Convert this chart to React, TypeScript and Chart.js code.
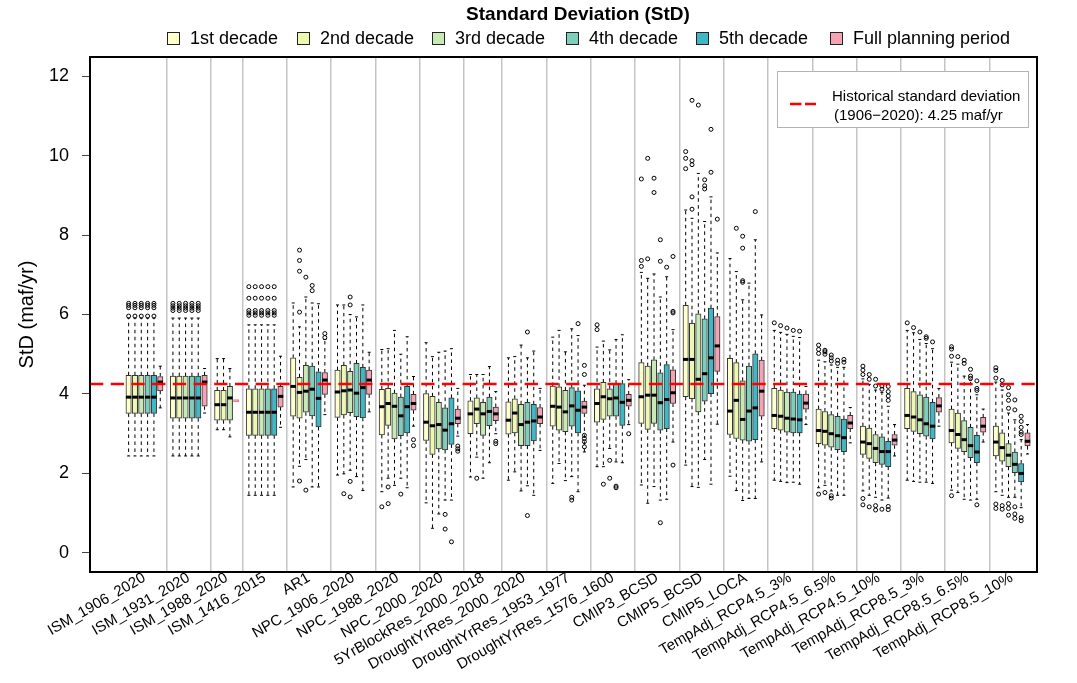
import React, { useEffect, useRef } from 'react';
import { Chart, registerables } from 'chart.js';

Chart.register(...registerables);

const FONT = "'Liberation Sans', Arial, Helvetica, sans-serif";

// ---------------- data ----------------
const groups: string[] = [
  'ISM_1906_2020', 'ISM_1931_2020', 'ISM_1988_2020', 'ISM_1416_2015', 'AR1',
  'NPC_1906_2020', 'NPC_1988_2020', 'NPC_2000_2020', '5YrBlockRes_2000_2018',
  'DroughtYrRes_2000_2020', 'DroughtYrRes_1953_1977', 'DroughtYrRes_1576_1600',
  'CMIP3_BCSD', 'CMIP5_BCSD', 'CMIP5_LOCA', 'TempAdj_RCP4.5_3%', 'TempAdj_RCP4.5_6.5%',
  'TempAdj_RCP4.5_10%', 'TempAdj_RCP8.5_3%', 'TempAdj_RCP8.5_6.5%', 'TempAdj_RCP8.5_10%',
];

const seriesNames: string[] = ['1st decade', '2nd decade', '3rd decade', '4th decade', '5th decade', 'Full planning period'];

const yTicks: number[] = [0, 2, 4, 6, 8, 10, 12];
const historicalStd = 4.25;
const chartTitle = 'Standard Deviation (StD)';
const histLabel1 = 'Historical standard deviation';
const histLabel2 = '(1906\u22122020): 4.25 maf/yr';

type Box = [number, number, number, number, number] | null; // [low whisker, q1, median, q3, high whisker]

const dec1Stats: Box[] = [
  [2.44, 3.51, 3.92, 4.47, 5.91], [2.44, 3.39, 3.90, 4.45, 5.91], [3.10, 3.34, 3.73, 4.09, 4.89],
  [1.45, 2.96, 3.54, 4.13, 5.74], [1.66, 3.44, 4.19, 4.91, 6.29], [1.96, 3.41, 4.05, 4.60, 6.24],
  [1.54, 2.97, 3.68, 4.12, 5.12], [1.26, 2.83, 3.29, 4.01, 5.29], [1.91, 3.00, 3.50, 3.83, 4.49],
  [1.83, 2.99, 3.34, 3.80, 4.91], [1.75, 3.19, 3.69, 4.20, 5.43], [2.17, 3.29, 3.76, 4.13, 5.18],
  [1.71, 3.26, 3.93, 4.79, 7.06], [2.21, 3.93, 4.87, 6.23, 8.63], [1.93, 2.98, 3.57, 4.90, 7.41],
  [1.83, 3.13, 3.46, 4.14, 5.60], [1.64, 2.75, 3.08, 3.62, 4.85], [1.56, 2.48, 2.79, 3.19, 4.38],
  [1.83, 3.13, 3.46, 4.14, 5.60], [1.58, 2.77, 3.08, 3.62, 4.80], [1.54, 2.44, 2.79, 3.19, 4.30],
];
const dec2Stats: Box[] = [
  [2.44, 3.51, 3.92, 4.47, 5.91], [2.44, 3.39, 3.90, 4.45, 5.91], [3.10, 3.34, 3.73, 4.09, 4.89],
  [1.45, 2.96, 3.54, 4.13, 5.74], [2.18, 3.39, 4.04, 4.42, 5.69], [1.99, 3.47, 4.08, 4.72, 6.24],
  [1.88, 3.21, 3.76, 4.14, 5.14], [0.62, 2.48, 3.20, 3.94, 4.94], [2.41, 3.25, 3.62, 3.90, 4.49],
  [2.04, 3.02, 3.52, 3.88, 4.94], [2.25, 3.09, 3.67, 4.18, 5.60], [2.17, 3.36, 3.93, 4.29, 5.33],
  [1.25, 3.11, 3.97, 4.70, 6.91], [1.67, 3.88, 4.87, 5.78, 8.42], [1.57, 2.88, 3.84, 4.79, 7.08],
  [1.80, 3.09, 3.44, 4.10, 5.55], [1.70, 2.71, 3.06, 3.56, 4.81], [1.45, 2.38, 2.75, 3.14, 4.24],
  [1.80, 3.06, 3.42, 4.06, 5.54], [1.52, 2.63, 2.98, 3.52, 4.75], [1.45, 2.31, 2.65, 3.02, 4.10],
];
const dec3Stats: Box[] = [
  [2.44, 3.51, 3.92, 4.47, 5.91], [2.44, 3.39, 3.90, 4.45, 5.91], [2.92, 3.34, 3.90, 4.19, 4.64],
  [1.45, 2.96, 3.54, 4.13, 5.74], [2.35, 3.54, 4.07, 4.72, 6.44], [2.08, 3.53, 4.10, 4.57, 6.00],
  [1.70, 2.87, 3.69, 4.02, 5.60], [0.98, 2.62, 3.23, 3.79, 5.05], [1.88, 2.96, 3.50, 3.79, 4.49],
  [1.56, 2.70, 3.23, 3.74, 5.23], [1.82, 3.05, 3.55, 4.09, 5.06], [2.63, 3.44, 3.88, 4.13, 5.11],
  [1.67, 3.26, 3.97, 4.86, 7.02], [1.65, 3.55, 4.37, 6.02, 9.55], [1.32, 2.84, 3.36, 4.33, 6.37],
  [1.77, 3.04, 3.39, 4.05, 5.50], [1.56, 2.66, 3.00, 3.48, 4.73], [1.40, 2.27, 2.63, 2.98, 4.10],
  [1.78, 3.00, 3.35, 3.98, 5.37], [1.35, 2.55, 2.85, 3.33, 4.45], [1.40, 2.17, 2.46, 2.75, 3.52],
];
const dec4Stats: Box[] = [
  [2.44, 3.51, 3.92, 4.47, 5.91], [2.44, 3.39, 3.90, 4.45, 5.91], null,
  [1.45, 2.96, 3.54, 4.13, 5.74], [1.66, 3.45, 4.12, 4.70, 6.29], [1.92, 3.43, 4.02, 4.77, 5.94],
  [1.88, 2.95, 3.45, 3.92, 5.00], [1.33, 2.59, 3.09, 3.65, 5.08], [2.27, 3.20, 3.56, 3.92, 4.69],
  [1.69, 2.70, 3.29, 3.79, 4.91], [1.92, 3.19, 3.70, 4.16, 5.64], [2.29, 3.44, 3.90, 4.26, 5.37],
  [1.33, 3.09, 3.78, 4.53, 6.44], [2.35, 3.82, 4.51, 5.89, 8.34], [1.37, 2.81, 3.57, 4.70, 6.79],
  [1.78, 3.02, 3.37, 4.05, 5.45], [1.45, 2.60, 2.95, 3.44, 4.67], [1.33, 2.23, 2.55, 2.92, 4.04],
  [1.78, 2.94, 3.25, 3.92, 5.27], [1.33, 2.40, 2.70, 3.16, 4.35], [1.40, 2.02, 2.23, 2.54, 3.35],
];
const dec5Stats: Box[] = [
  [2.44, 3.51, 3.92, 4.47, 5.91], [2.44, 3.39, 3.90, 4.45, 5.91], null,
  [1.45, 2.96, 3.54, 4.13, 5.74], [1.66, 3.17, 3.89, 4.56, 6.27], [1.57, 3.40, 4.16, 4.67, 6.24],
  [1.64, 3.02, 3.68, 4.19, 5.44], [1.33, 2.73, 3.25, 3.90, 5.14], null,
  [1.45, 2.82, 3.32, 3.74, 5.08], [1.54, 3.02, 3.59, 4.08, 5.47], [2.27, 3.21, 3.79, 4.26, 5.49],
  [1.35, 3.13, 3.86, 4.74, 6.95], [1.73, 4.01, 4.91, 6.16, 8.96], [1.37, 2.85, 3.65, 5.01, 7.88],
  [1.73, 3.02, 3.35, 4.00, 5.42], [1.45, 2.55, 2.90, 3.37, 4.67], [1.38, 2.17, 2.55, 2.81, 3.69],
  [1.75, 2.87, 3.19, 3.79, 5.14], [1.35, 2.27, 2.54, 2.96, 3.98], [1.14, 1.79, 2.00, 2.25, 2.85],
];
const fullStats: Box[] = [
  [3.65, 4.08, 4.30, 4.44, 4.70], [3.52, 3.69, 4.30, 4.47, 4.64], [3.83, 3.83, 3.83, 3.83, 3.83],
  [3.16, 3.67, 3.94, 4.19, 4.95], [3.48, 3.99, 4.35, 4.54, 5.37], [3.55, 3.99, 4.35, 4.60, 5.05],
  [3.19, 3.59, 3.76, 3.99, 4.44], [2.94, 3.25, 3.39, 3.62, 4.14], [3.00, 3.33, 3.50, 3.67, 4.06],
  [2.58, 3.25, 3.42, 3.66, 4.14], [2.54, 3.51, 3.67, 3.82, 4.22], [3.23, 3.69, 3.84, 3.99, 4.36],
  [2.79, 3.76, 4.03, 4.61, 5.62], [3.24, 4.57, 5.21, 5.95, 7.55], [2.29, 3.44, 4.07, 4.85, 5.99],
  [3.23, 3.62, 3.77, 4.00, 4.19], [2.77, 3.13, 3.27, 3.46, 3.66], [2.44, 2.71, 2.84, 2.98, 3.23],
  [3.19, 3.54, 3.70, 3.91, 4.14], [2.79, 3.04, 3.19, 3.41, 3.62], [2.49, 2.69, 2.81, 3.02, 3.23],
];

const ismOut1906 = [6.28, 6.23, 6.17, 5.96];
const ismOut1931 = [6.28, 6.22, 6.16, 6.10];
const ismOut1416 = [6.70, 6.41, 6.10, 6.04, 5.98];

const dec1Out: number[][] = [
  ismOut1906, ismOut1931, [], ismOut1416, [], [], [1.16], [], [], [], [], [5.74, 5.62],
  [9.41, 7.36, 7.21], [10.10, 9.93, 9.67], [], [5.79], [5.23, 5.12, 5.02, 1.48],
  [4.70, 4.60, 4.49, 1.37, 1.21], [5.79], [5.19, 5.13, 4.95, 1.44], [4.66, 4.59, 4.40, 1.23, 1.12],
];
const dec2Out: number[][] = [
  ismOut1906, ismOut1931, [], ismOut1416, [7.62, 7.36, 7.09, 6.06, 1.81], [1.49], [1.66, 1.24], [],
  [1.88], [], [], [1.73], [9.93, 7.40], [11.39, 9.87, 9.77, 8.96, 8.65], [8.17], [5.72],
  [5.10, 5.06, 5.00, 1.52], [4.49, 4.37, 1.16], [5.67], [4.94], [4.34, 4.23, 1.19, 1.10],
];
const dec3Out: number[][] = [
  ismOut1906, ismOut1931, [], ismOut1416, [6.94, 1.58], [6.44, 6.24, 1.80, 1.41], [], [], [], [], [],
  [2.33, 1.88], [9.43, 9.07], [11.27], [7.97, 7.67, 6.85, 6.81], [5.66], [4.98, 4.91, 4.83, 1.44, 1.38],
  [4.37, 4.20, 1.19, 1.08], [5.56], [4.85, 4.77], [4.16, 3.98, 3.84, 3.64, 1.24, 1.12, 0.95],
];
const dec4Out: number[][] = [
  ismOut1906, ismOut1931, [], ismOut1416, [6.73, 6.60], [], [1.48], [0.97, 0.60], [], [5.56, 0.94],
  [1.40, 1.33], [1.68, 1.64], [7.88, 7.34, 0.76], [9.39, 9.24, 9.16], [], [5.60], [4.85, 4.77],
  [4.20, 4.12, 1.10], [5.44, 5.40], [4.62, 4.45, 4.39], [3.85, 3.60, 1.16, 0.98, 0.87],
];
const dec5Out: number[][] = [
  ismOut1906, ismOut1931, [], ismOut1416, [], [], [], [0.28], [], [], [5.77], [], [7.19],
  [10.66, 9.58], [8.59], [5.58], [4.87, 4.80], [4.19, 4.06, 3.95, 3.84, 1.17, 1.09], [5.31],
  [4.33, 4.14, 4.09, 1.21], [3.44, 3.31, 3.16, 3.04, 2.98, 0.89, 0.81],
];
const fullOut: number[][] = [
  [], [], [], [], [5.52, 5.42], [], [2.85, 2.70], [2.69, 2.62, 2.56], [2.81, 2.75], [],
  [4.72, 4.49, 2.96, 2.88, 2.80, 2.67], [3.00], [7.46, 6.08, 6.04, 2.21], [8.40], [], [], [], [], [], [], [],
];

// ---------------- styling ----------------
const fills = ['#FFFFCC', '#EDF8B1', '#C7E9B4', '#7FCDBB', '#41B6C4', '#F4A3B4'];
const legendX = [167, 297, 432, 566, 696, 830];

const allStats = [dec1Stats, dec2Stats, dec3Stats, dec4Stats, dec5Stats, fullStats];
const allOut = [dec1Out, dec2Out, dec3Out, dec4Out, dec5Out, fullOut];

// slot positions along the x axis (one slot per box, one empty slot between groups)
const slots: (number | null)[][] = seriesNames.map(() => []);
const groupCenters: number[] = [];
const separators: number[] = [];
(() => {
  let s = 1;
  groups.forEach((_, gi) => {
    const start = s;
    for (let d = 0; d < seriesNames.length; d++) {
      if (allStats[d][gi]) { slots[d][gi] = s; s++; } else slots[d][gi] = null;
    }
    groupCenters.push((start + s - 1) / 2);
    if (gi < groups.length - 1) separators.push(s);
    s++;
  });
})();

const X_MIN = -5.1;
const X_MAX = 144.5;

function buildDatasets() {
  const ds: any[] = [];
  const medians: any[] = [];
  const whiskers: any[] = [];
  const caps: any[] = [];
  const outliers: any[] = [];
  for (let d = 0; d < seriesNames.length; d++) {
    const barData: any[] = [];
    allStats[d].forEach((st, gi) => {
      if (!st) return;
      const x = slots[d][gi] as number;
      const [lo, q1, med, q3, hi] = st;
      const flat = q1 === q3;
      barData.push({ x, y: flat ? [q1 - 0.03, q3 + 0.03] : [q1, q3], flat });
      if (!flat) medians.push({ x, y: med });
      if (hi > q3) { whiskers.push({ x, y: q3 }, { x, y: hi }, { x, y: null }); caps.push({ x, y: hi }); }
      if (lo < q1) { whiskers.push({ x, y: q1 }, { x, y: lo }, { x, y: null }); caps.push({ x, y: lo }); }
      allOut[d][gi].forEach((v) => outliers.push({ x, y: v }));
    });
    ds.push({
      type: 'bar',
      label: seriesNames[d],
      data: barData,
      backgroundColor: fills[d],
      borderColor: (c: any) => (c.raw && c.raw.flat ? '#E8708A' : '#333333'),
      borderWidth: 1,
      borderSkipped: false,
      grouped: false,
      barThickness: 5.4,
      order: 3,
    });
  }
  ds.push({
    type: 'line', label: 'whiskers', data: whiskers, borderColor: '#000', borderWidth: 1,
    borderDash: [3.5, 3.5], pointRadius: 0, spanGaps: false, order: 5,
  });
  ds.push({
    type: 'scatter', label: 'caps', data: caps, pointStyle: 'line', pointRadius: 1.5,
    borderColor: '#000', pointBorderWidth: 1, order: 4,
  });
  ds.push({
    type: 'scatter', label: 'medians', data: medians, pointStyle: 'line', pointRadius: 2.7,
    borderColor: '#000', pointBorderWidth: 3, order: 1,
  });
  ds.push({
    type: 'scatter', label: 'outliers', data: outliers, pointStyle: 'circle', pointRadius: 2.0,
    borderColor: '#000', backgroundColor: 'rgba(0,0,0,0)', pointBorderWidth: 1, order: 2,
  });
  ds.push({
    type: 'line', label: histLabel1, data: [{ x: X_MIN, y: historicalStd }, { x: X_MAX, y: historicalStd }],
    borderColor: '#FF0000', borderWidth: 2.5, borderDash: [13.3, 7.4], pointRadius: 0, order: 0,
  });
  return ds;
}

const overlayPlugin = {
  id: 'overlay',
  afterDraw(chart: any) {
    const { ctx, chartArea: a } = chart;
    ctx.save();
    // frame
    ctx.strokeStyle = '#000';
    ctx.lineWidth = 2;
    ctx.strokeRect(a.left, a.top, a.right - a.left, a.bottom - a.top);
    // title
    ctx.fillStyle = '#000';
    ctx.font = `bold 19px ${FONT}`;
    ctx.textAlign = 'center';
    ctx.textBaseline = 'middle';
    ctx.fillText(chartTitle, 578, 15);
    // legend
    ctx.font = `18px ${FONT}`;
    ctx.textAlign = 'left';
    seriesNames.forEach((name, i) => {
      const x = legendX[i];
      ctx.fillStyle = chart.data.datasets[i].backgroundColor;
      ctx.fillRect(x, 32, 12, 12);
      ctx.strokeStyle = '#222';
      ctx.lineWidth = 1;
      ctx.strokeRect(x + 0.5, 32.5, 12, 12);
      ctx.fillStyle = '#000';
      ctx.fillText(name, x + 23, 39);
    });
    // historical legend box
    ctx.fillStyle = '#fff';
    ctx.fillRect(777, 71, 251, 56);
    ctx.strokeStyle = '#b4b4b4';
    ctx.lineWidth = 1;
    ctx.strokeRect(777.5, 71.5, 251, 56);
    ctx.strokeStyle = '#FF0000';
    ctx.lineWidth = 2.5;
    ctx.setLineDash([11.5, 3.5]);
    ctx.beginPath();
    ctx.moveTo(790, 104);
    ctx.lineTo(816, 104);
    ctx.stroke();
    ctx.setLineDash([]);
    ctx.fillStyle = '#000';
    ctx.font = `15px ${FONT}`;
    ctx.fillText(histLabel1, 832, 97);
    ctx.fillText(histLabel2, 834, 116);
    ctx.restore();
  },
};

export default function App() {
  const ref = useRef<HTMLCanvasElement | null>(null);
  useEffect(() => {
    if (!ref.current) return;
    Chart.defaults.font.family = FONT;
    const chart = new Chart(ref.current, {
      type: 'scatter',
      data: { datasets: buildDatasets() },
      options: {
        responsive: false,
        animation: false,
        events: [],
        layout: { padding: { top: 57, right: 40, bottom: 0, left: 0 } },
        plugins: { legend: { display: false }, title: { display: false }, tooltip: { enabled: false } },
        scales: {
          x: {
            type: 'linear', position: 'bottom', min: X_MIN, max: X_MAX, offset: false,
            grid: { display: false, drawTicks: false, offset: false },
            border: { display: false },
            afterBuildTicks: (scale: any) => { scale.ticks = groupCenters.map((v) => ({ value: v })); },
            afterFit: (scale: any) => { scale.height = 111; },
            ticks: {
              autoSkip: false, maxRotation: 30, minRotation: 30, color: '#000', padding: -3,
              font: { size: 15, family: FONT },
              callback: (v: any) => {
                const i = groupCenters.findIndex((c) => Math.abs(c - Number(v)) < 1e-6);
                return i >= 0 ? groups[i] : '';
              },
            },
          },
          xs: {
            type: 'linear', position: 'bottom', min: X_MIN, max: X_MAX, offset: false,
            grid: { display: true, drawTicks: false, offset: false, color: '#c4c4c4', lineWidth: 1.5 },
            border: { display: false },
            ticks: { display: false },
            afterBuildTicks: (scale: any) => { scale.ticks = separators.map((v) => ({ value: v })); },
            afterFit: (scale: any) => { scale.height = 0; },
          },
          y: {
            type: 'linear', position: 'left', min: -0.48, max: 12.48,
            grid: { drawOnChartArea: false, drawTicks: true, tickLength: 8, color: '#444', lineWidth: 1 },
            border: { display: false },
            afterBuildTicks: (scale: any) => { scale.ticks = yTicks.map((v) => ({ value: v })); },
            afterFit: (scale: any) => { scale.width = 90; },
            ticks: { color: '#000', padding: 13, font: { size: 18, family: FONT } },
            title: {
              display: true, text: 'StD (maf/yr)', color: '#000',
              font: { size: 20, family: FONT }, padding: { top: 15, bottom: 0 },
            },
          },
        },
      },
      plugins: [overlayPlugin],
    } as any);
    return () => chart.destroy();
  }, []);
  return (
    <div style={{ position: 'absolute', left: 0, top: 0, width: 1077, height: 683, background: '#fff' }}>
      <canvas ref={ref} width={1077} height={683} style={{ display: 'block' }} />
    </div>
  );
}
